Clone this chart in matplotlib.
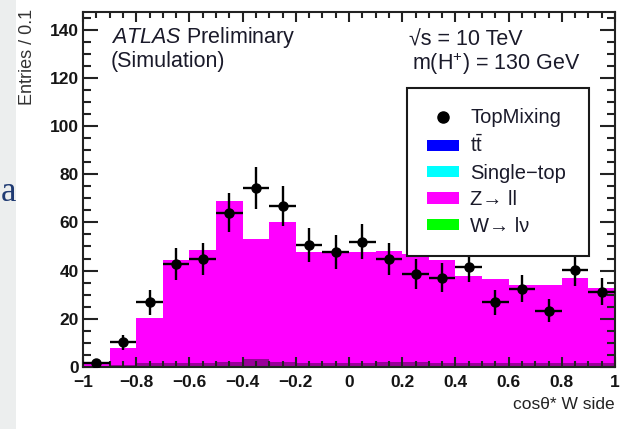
import matplotlib
matplotlib.use("Agg")
import matplotlib.pyplot as plt
import numpy as np
from matplotlib.lines import Line2D
from matplotlib.patches import Patch, Rectangle
from matplotlib.ticker import FuncFormatter, MultipleLocator

plt.rcParams["font.family"] = ["Liberation Sans", "DejaVu Sans"]
plt.rcParams["mathtext.fontset"] = "custom"
plt.rcParams["mathtext.rm"] = "Liberation Sans"
plt.rcParams["mathtext.it"] = "Liberation Sans:italic"
plt.rcParams["mathtext.bf"] = "Liberation Sans:bold"

# cos(theta*) on the W side, 20 bins of 0.1
bin_edges = np.linspace(-1.0, 1.0, 21)
bin_centers = 0.5 * (bin_edges[:-1] + bin_edges[1:])

# stacked MC (top of stack is Z->ll)
zll = [1.7, 7.8, 20.2, 44.2, 48.4, 69.0, 53.3, 60.0, 47.7, 47.5,
       47.6, 48.3, 46.7, 44.2, 37.7, 36.7, 34.0, 34.0, 36.8, 32.6]
ttbar = [0.4, 0.8, 1.5, 1.7, 1.8, 2.0, 3.2, 2.2, 1.8, 1.7,
         1.8, 2.0, 1.9, 1.7, 1.7, 1.6, 1.6, 1.5, 1.5, 1.5]

# TopMixing pseudo-data
topmix = [1.5, 10.2, 26.8, 42.9, 44.7, 64.0, 74.3, 66.7, 50.6, 47.7,
          52.0, 44.7, 38.5, 37.1, 41.5, 26.8, 32.5, 23.3, 40.1, 31.2]
topmix_err = [1.2, 3.2, 5.2, 6.6, 6.7, 8.0, 8.8, 8.2, 7.1, 6.9,
              7.2, 6.7, 6.2, 6.1, 6.4, 5.2, 5.7, 4.8, 6.3, 5.6]

W, H = 631, 429
fig = plt.figure(figsize=(W / 100, H / 100), dpi=100)

# slide background strip on the left edge
fig.patches.append(Rectangle((0, 0), 16 / W, 1, transform=fig.transFigure,
                             facecolor="#eceeee", edgecolor="none", zorder=0))
fig.text(0.5 / W, (H - 201) / H, "a", family="Liberation Serif", fontsize=25,
         color="#1f3a72", ha="left", va="baseline")

ax = fig.add_axes([83 / W, 62 / H, 532 / W, 355 / H])
ax.hist(bin_centers, bins=bin_edges, weights=zll, histtype="stepfilled",
        color="#ff00ff", linewidth=0)
ax.hist(bin_centers, bins=bin_edges, weights=ttbar, histtype="stepfilled",
        color="#990099", linewidth=0)
ax.errorbar(bin_centers, topmix, xerr=0.05, yerr=topmix_err, fmt="o",
            color="black", ms=6.5, elinewidth=1.7, capsize=0, zorder=5)

ax.set_xlim(-1, 1)
ax.set_ylim(0, 147.3)

ax.xaxis.set_major_locator(MultipleLocator(0.2))
ax.xaxis.set_minor_locator(MultipleLocator(0.05))
ax.yaxis.set_major_locator(MultipleLocator(20))
ax.yaxis.set_minor_locator(MultipleLocator(5))
ax.xaxis.set_major_formatter(FuncFormatter(
    lambda v, _: f"{v:.1f}".rstrip("0").rstrip(".").replace("-", "\u2212")
    if abs(v) > 1e-9 else "0"))
ax.tick_params(which="both", direction="in", top=True, right=True,
               width=1.5, color="#222222")
ax.tick_params(axis="x", which="major", length=7.5, pad=6)
ax.tick_params(axis="x", which="minor", length=4)
ax.tick_params(axis="y", which="major", length=11, pad=3)
ax.tick_params(axis="y", which="minor", length=5.5)
for lab in ax.get_xticklabels() + ax.get_yticklabels():
    lab.set_fontweight("bold")
    lab.set_fontsize(12.5)
    lab.set_color("#151515")
# keep the "0" on the y axis clear of the "-1" below it
ax.get_yticklabels()[0].set_verticalalignment("bottom")
for sp in ax.spines.values():
    sp.set_linewidth(1.5)
    sp.set_color("#222222")

fig.text(28 / W, (H - 9) / H, "Entries / 0.1", rotation=90, ha="center",
         va="top", fontsize=13, color="#333333")
ax.text(1.0, -0.105, "cos\u03b8* W side", transform=ax.transAxes, ha="right",
        va="center", fontsize=12.5, color="#222222")

ax.text(0.0526, 0.913, r"$\mathbf{\mathit{ATLAS}}$ Preliminary",
        transform=ax.transAxes, ha="left", va="baseline", fontsize=15.5,
        color="#1a1a2a")
ax.text(0.0526, 0.845, "(Simulation)", transform=ax.transAxes, ha="left",
        va="baseline", fontsize=15.5, color="#1a1a2a")
ax.text(0.613, 0.907, "\u221as = 10 TeV", transform=ax.transAxes, ha="left",
        va="baseline", fontsize=15.5, color="#1a1a2a")
ax.text(0.618, 0.837, r"m(H$^{+}$) = 130 GeV", transform=ax.transAxes,
        ha="left", va="baseline", fontsize=15.5, color="#1a1a2a")

handles = [
    Line2D([], [], marker="o", color="black", ls="none", ms=8),
    Patch(facecolor="#0000ff"),
    Patch(facecolor="#00ffff"),
    Patch(facecolor="#ff00ff"),
    Patch(facecolor="#00ff00"),
]
labels = ["TopMixing", r"t$\bar{\mathrm{t}}$", "Single\u2212top",
          "Z\u2192 ll", "W\u2192 l\u03bd"]
leg = ax.legend(handles, labels, loc="upper left",
                bbox_to_anchor=(0.609, 0.327, 0.342, 0.459), mode="expand",
                borderaxespad=0, fontsize=14.5, frameon=True, fancybox=False,
                edgecolor="#1a1a1a", framealpha=1, borderpad=1.0,
                labelspacing=0.37, handlelength=1.6, handleheight=0.5,
                handletextpad=0.55)
leg.get_frame().set_linewidth(1.5)
for t in leg.get_texts():
    t.set_color("#1a1a2a")

fig.savefig("out.png", dpi=100)
